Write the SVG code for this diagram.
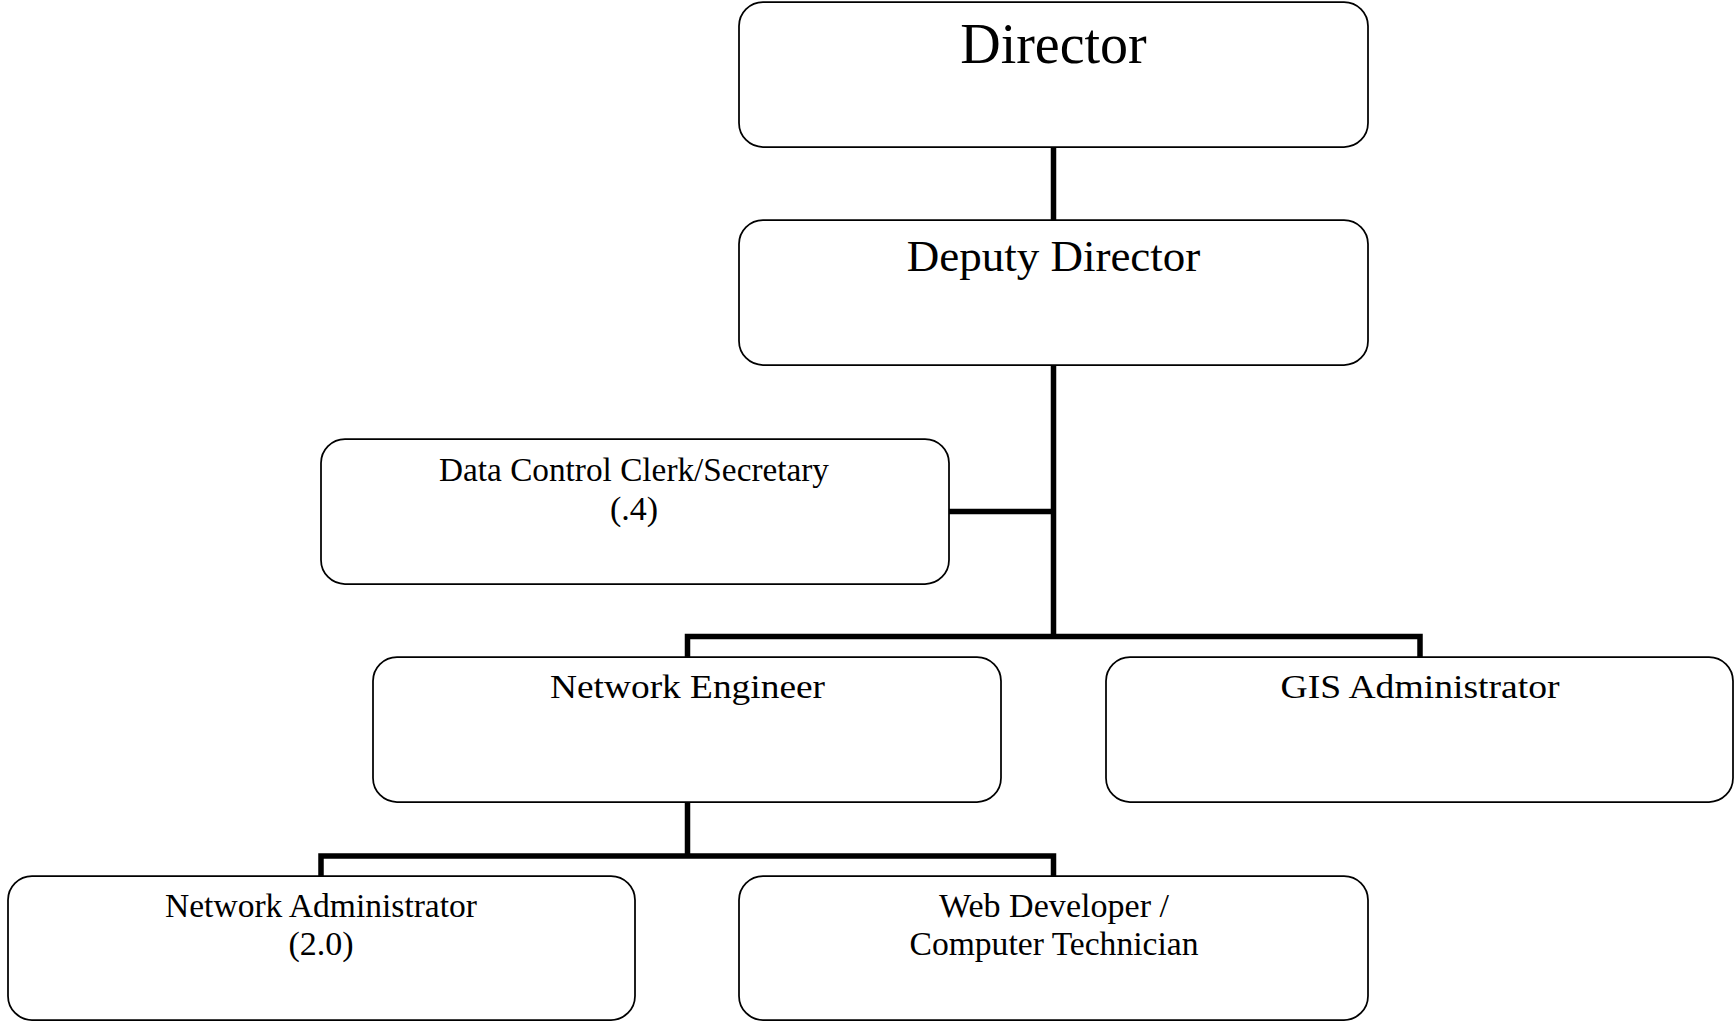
<svg xmlns="http://www.w3.org/2000/svg" width="1735" height="1022" viewBox="0 0 1735 1022">
<style>
.box{fill:#fff;stroke:#000;stroke-width:1.75}
.t{font-family:"Liberation Serif","Times New Roman",serif;fill:#000;text-anchor:middle}
.s{font-size:34px}
.conn{fill:none;stroke:#000;stroke-width:5.5;stroke-linejoin:miter;stroke-linecap:butt}
</style>
<rect width="1735" height="1022" fill="#fff"/>
<g id="connectors">
<path class="conn" d="M1053.5 147 V220"/>
<path class="conn" d="M1053.5 365 V639"/>
<path class="conn" d="M949 511.5 H1053.5"/>
<path class="conn" d="M687.5 657 V636.5 H1420 V657"/>
<path class="conn" d="M687.5 802 V856"/>
<path class="conn" d="M321 876 V856 H1053.5 V876"/>
</g>
<g id="director">
<rect class="box" x="739" y="2" width="629" height="145" rx="24"/>
<text class="t" x="1053.5" y="63" font-size="56">Director</text>
</g>
<g id="deputy-director">
<rect class="box" x="739" y="220" width="629" height="145" rx="24"/>
<text class="t" x="1053.5" y="271" font-size="45">Deputy Director</text>
</g>
<g id="data-control-clerk">
<rect class="box" x="321" y="439" width="628" height="145" rx="24"/>
<text class="t s" x="634" y="481" textLength="390" lengthAdjust="spacingAndGlyphs">Data Control Clerk/Secretary</text>
<text class="t s" x="634" y="520">(.4)</text>
</g>
<g id="network-engineer">
<rect class="box" x="373" y="657" width="628" height="145" rx="24"/>
<text class="t s" x="687.5" y="698" textLength="275" lengthAdjust="spacingAndGlyphs">Network Engineer</text>
</g>
<g id="gis-administrator">
<rect class="box" x="1106" y="657" width="627" height="145" rx="24"/>
<text class="t s" x="1420" y="698" textLength="279" lengthAdjust="spacingAndGlyphs">GIS Administrator</text>
</g>
<g id="network-administrator">
<rect class="box" x="8" y="876" width="627" height="144" rx="24"/>
<text class="t s" x="321" y="917" textLength="312" lengthAdjust="spacingAndGlyphs">Network Administrator</text>
<text class="t s" x="321" y="955">(2.0)</text>
</g>
<g id="web-developer">
<rect class="box" x="739" y="876" width="629" height="144" rx="24"/>
<text class="t s" x="1054" y="917" textLength="230" lengthAdjust="spacingAndGlyphs">Web Developer /</text>
<text class="t s" x="1054" y="955" textLength="289" lengthAdjust="spacingAndGlyphs">Computer Technician</text>
</g>
</svg>
